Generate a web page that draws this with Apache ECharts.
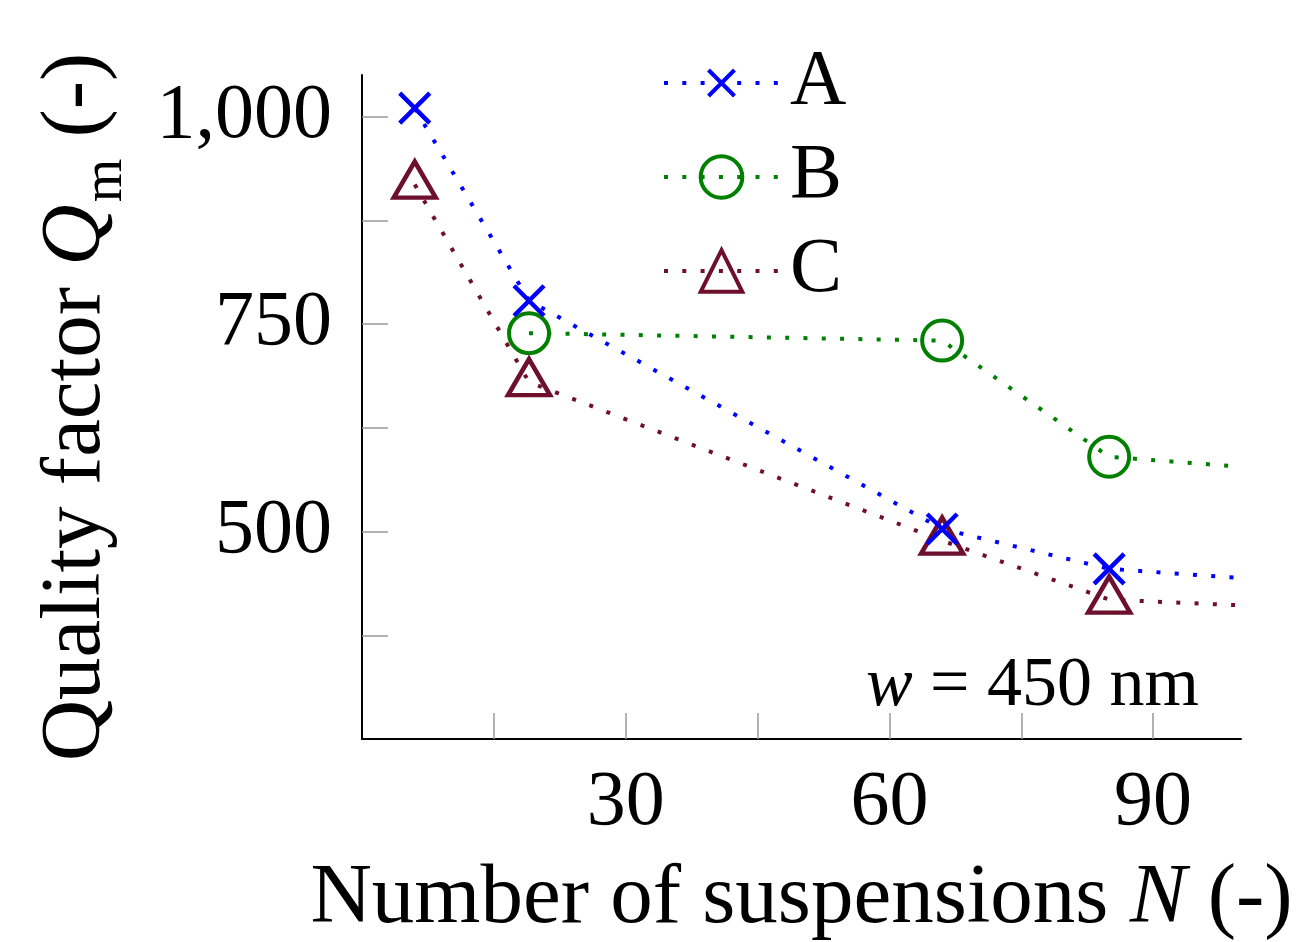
<!DOCTYPE html>
<html>
<head>
<meta charset="utf-8">
<script src="https://cdn.jsdelivr.net/npm/echarts@6/dist/echarts.min.js"></script>
<style>html,body{margin:0;padding:0;background:#fff}#c{width:1305px;height:942px}</style>
</head>
<body>
<div id="c"></div>
<script>
const N_A = [6, 19, 66, 85, 100];
const Q_A = [1010, 778, 503, 455, 444];
const N_B = [19, 66, 85, 100];
const Q_B = [739, 730, 590, 578];
const N_C = [6, 19, 66, 85, 100];
const Q_C = [918, 680, 489, 418, 411];
const xTicks = [15, 30, 45, 60, 75, 90];
const xTickLabels = [30, 60, 90];
const yTicks = [375, 500, 625, 750, 875, 1000];
const yTickLabels = [500, 750, 1000];
const seriesNames = ['A', 'B', 'C'];

const FONT = 'Liberation Serif';
const DOT = [4, 14.3];

function pts(xs, ys) {
  return xs.map((x, i) => {
    const last = i === xs.length - 1 && x === 100;
    return last ? { value: [x, ys[i]], symbol: 'none' } : [x, ys[i]];
  });
}

const chart = echarts.init(document.getElementById('c'));
chart.setOption({
  animation: false,
  backgroundColor: '#fff',
  textStyle: { fontFamily: FONT },
  grid: { left: 362, right: 64, top: 75, bottom: 203, containLabel: false, outerBoundsMode: 'none' },
  legend: {
    orient: 'vertical',
    left: 657,
    top: 39,
    itemWidth: 115,
    itemHeight: 52,
    itemGap: 16,
    data: seriesNames,
    textStyle: { fontFamily: FONT, fontSize: 78, color: '#000', padding: [0, 0, 0, 6] },
    itemStyle: { borderWidth: 4 },
    lineStyle: { width: 4 }
  },
  xAxis: {
    type: 'value',
    min: 0, max: 100, interval: 15,
    name: '{t|Number of suspensions }{i|N}{t| (-)}',
    nameLocation: 'middle',
    nameGap: 118,
    nameTextStyle: {
      rich: {
        t: { fontFamily: FONT, fontSize: 85, color: '#000' },
        i: { fontFamily: FONT, fontSize: 85, fontStyle: 'italic', color: '#000' }
      }
    },
    axisLine: { show: true, onZero: false, lineStyle: { color: '#000', width: 2 } },
    axisTick: { show: true, inside: true, length: 26, customValues: xTicks, lineStyle: { color: '#999', width: 1.5 } },
    splitLine: { show: false },
    axisLabel: {
      fontFamily: FONT, fontSize: 78, color: '#000', margin: 26,
      customValues: xTickLabels,
      formatter: v => String(v)
    }
  },
  yAxis: {
    type: 'value',
    min: 250, max: 1050, interval: 125,
    name: '{t|Quality factor }{i|Q}{s|m}{t| (-)}',
    nameLocation: 'middle',
    nameGap: 240,
    nameTextStyle: {
      rich: {
        t: { fontFamily: FONT, fontSize: 85, color: '#000', lineHeight: 88, verticalAlign: 'top' },
        i: { fontFamily: FONT, fontSize: 85, fontStyle: 'italic', color: '#000', lineHeight: 88, verticalAlign: 'top' },
        s: { fontFamily: FONT, fontSize: 56, color: '#000', lineHeight: 56, padding: [44, 0, 0, 2], verticalAlign: 'top' }
      }
    },
    axisLine: { show: true, onZero: false, lineStyle: { color: '#000', width: 2 } },
    axisTick: { show: true, inside: true, length: 26, customValues: yTicks, lineStyle: { color: '#999', width: 1.5 } },
    splitLine: { show: false },
    axisLabel: {
      fontFamily: FONT, fontSize: 78, color: '#000', margin: 30,
      customValues: yTickLabels,
      formatter: v => v.toLocaleString('en-US')
    }
  },
  series: [
    {
      name: 'A', type: 'line', data: pts(N_A, Q_A),
      symbol: 'path://M-3,-3M13,13M0,0L10,10M10,0L0,10',
      symbolSize: 48,
      lineStyle: { color: '#0000ff', width: 4, type: DOT, cap: 'butt' },
      itemStyle: { color: 'transparent', borderColor: '#0000ff', borderWidth: 4.5 },
      z: 3
    },
    {
      name: 'B', type: 'line', data: pts(N_B, Q_B),
      symbol: 'circle', symbolSize: 40,
      lineStyle: { color: '#008000', width: 4, type: DOT, cap: 'butt' },
      itemStyle: { color: 'transparent', borderColor: '#008000', borderWidth: 4 },
      z: 2
    },
    {
      name: 'C', type: 'line', data: pts(N_C, Q_C),
      symbol: 'triangle', symbolSize: [42, 36], symbolOffset: [0, -5],
      lineStyle: { color: '#6e0f2e', width: 4, type: DOT, cap: 'butt' },
      itemStyle: { color: 'transparent', borderColor: '#6e0f2e', borderWidth: 4.5 },
      z: 2
    }
  ],
  graphic: [{
    type: 'text',
    right: 106,
    top: 652,
    style: {
      text: '{i|w} = 450 nm',
      font: '70px "Liberation Serif"',
      fill: '#000',
      rich: { i: { fontStyle: 'italic', fontSize: 70, fontFamily: FONT } }
    }
  }]
});
</script>
</body>
</html>
